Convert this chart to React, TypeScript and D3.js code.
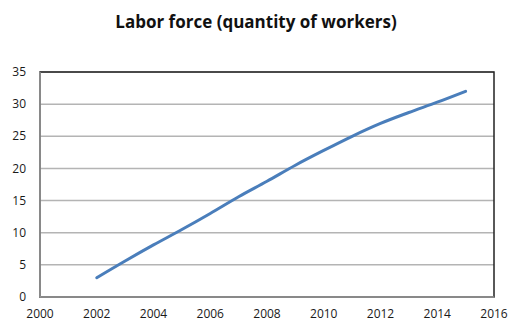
import React from "react";
import * as d3 from "d3";

const years = [2002, 2003, 2004, 2005, 2006, 2007, 2008, 2009, 2010, 2011, 2012, 2013, 2014, 2015];
const workers = [3, 5.6, 8.1, 10.5, 13.0, 15.6, 18.0, 20.5, 22.8, 25.0, 27.0, 28.7, 30.3, 32.0];
const xTicks = [2000, 2002, 2004, 2006, 2008, 2010, 2012, 2014, 2016];
const yTicks = [0, 5, 10, 15, 20, 25, 30, 35];
const title = "Labor force (quantity of workers)";

const W = 510;
const H = 322;
const left = 40, right = 494, top = 72, bottom = 297;

export default function App() {
  const x = d3.scaleLinear().domain([2000, 2016]).range([left, right]);
  const y = d3.scaleLinear().domain([0, 35]).range([bottom, top]);
  const line = d3
    .line<number>()
    .x((_, i) => x(years[i]))
    .y((d) => y(d))
    .curve(d3.curveMonotoneX);
  const font = "'Open Sans', sans-serif";
  return (
    <div style={{ position: "absolute", left: 0, top: 0 }}>
      <svg width={W} height={H} style={{ display: "block", background: "#fff" }}>
        <text x={256} y={28} textAnchor="middle" fontFamily={font} fontWeight="bold" fontSize={17} fill="#111">
          {title}
        </text>
        {yTicks.filter((t) => t > 0).map((t) => (
          <line key={"g" + t} x1={left} x2={right} y1={y(t)} y2={y(t)} stroke="#b4b4b4" strokeWidth={1.5} />
        ))}
        <rect x={left} y={top} width={right - left} height={bottom - top} fill="none" stroke="#222" strokeWidth={1.5} />
        <line x1={left} x2={left} y1={top} y2={bottom} stroke="#9a9a9a" strokeWidth={1.5} />
        <line x1={left} x2={right} y1={bottom} y2={bottom} stroke="#9a9a9a" strokeWidth={1.5} />
        {yTicks.map((t) => (
          <text key={"y" + t} x={26} y={y(t)} dy="0.35em" textAnchor="end" fontFamily={font} fontSize={12} fill="#1a1a1a">
            {t}
          </text>
        ))}
        {xTicks.map((t) => (
          <text key={"x" + t} x={x(t)} y={318} textAnchor="middle" fontFamily={font} fontSize={12} fill="#1a1a1a">
            {t}
          </text>
        ))}
        <path d={line(workers) || ""} fill="none" stroke="#4a7ebb" strokeWidth={3} strokeLinecap="round" />
      </svg>
    </div>
  );
}
